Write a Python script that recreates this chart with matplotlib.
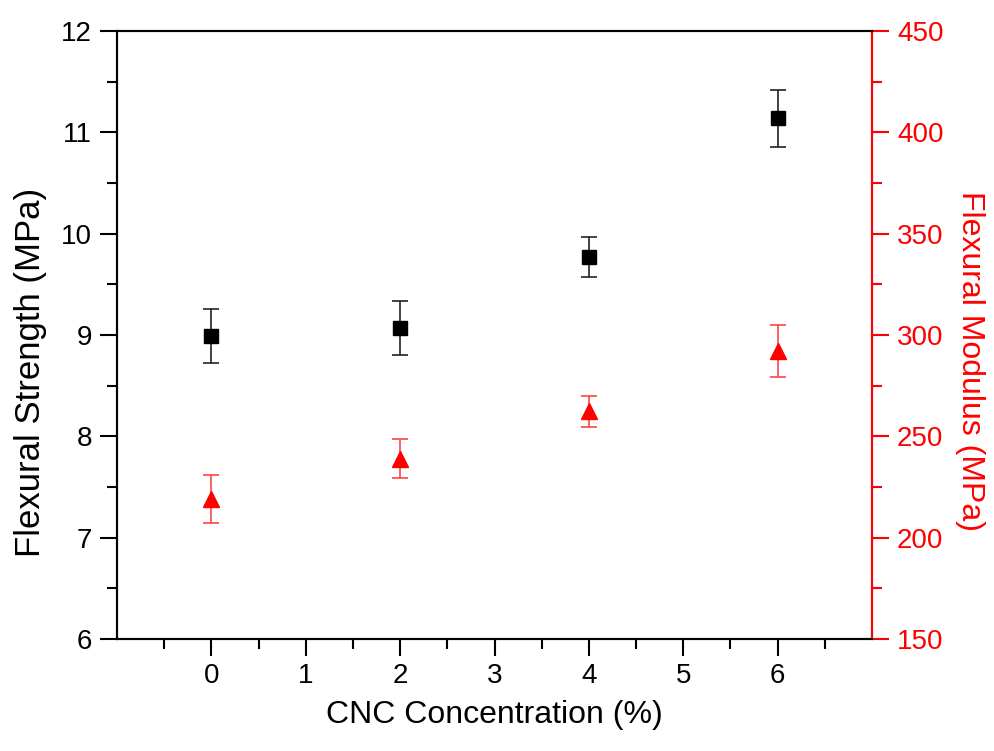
import numpy as np
import matplotlib.pyplot as plt
from matplotlib.ticker import FixedLocator

plt.rcParams['font.family'] = ['Liberation Sans', 'DejaVu Sans']

# CNC content (%)
cnc = [0, 2, 4, 6]
# flexural strength (MPa) and std dev
strength = [8.99, 9.07, 9.77, 11.14]
strength_err = [0.27, 0.27, 0.20, 0.28]
# flexural modulus (MPa) and std dev
modulus = [219.0, 239.0, 262.4, 292.2]
modulus_err = [11.8, 9.5, 7.6, 12.7]

x_ticks = [0, 1, 2, 3, 4, 5, 6]
x_minor = [-0.5, 0.5, 1.5, 2.5, 3.5, 4.5, 5.5, 6.5]
left_ticks = [6, 7, 8, 9, 10, 11, 12]
right_ticks = [150, 200, 250, 300, 350, 400, 450]

fig = plt.figure(figsize=(9.95, 7.51), dpi=100)
ax = fig.add_axes([0.1176, 0.1491, 0.7588, 0.8096])
ax2 = ax.twinx()

ax.errorbar(cnc, strength, yerr=strength_err, fmt='s', color='black', ms=9.5,
            ecolor='#222222', elinewidth=1.2, capsize=6, capthick=1.2, zorder=3)
ax2.errorbar(cnc, modulus, yerr=modulus_err, fmt='^', color='red', ms=12,
             ecolor='#ff4545', elinewidth=1.2, capsize=6, capthick=1.2, zorder=3)

ax.set_xlim(-1, 7)
ax.set_ylim(6, 12)
ax2.set_ylim(150, 450)

ax.xaxis.set_major_locator(FixedLocator(x_ticks))
ax.xaxis.set_minor_locator(FixedLocator(x_minor))
ax.yaxis.set_major_locator(FixedLocator(left_ticks))
ax.yaxis.set_minor_locator(FixedLocator(np.array(left_ticks[:-1]) + 0.5))
ax2.yaxis.set_major_locator(FixedLocator(right_ticks))
ax2.yaxis.set_minor_locator(FixedLocator(np.array(right_ticks[:-1]) + 25))

for a in (ax, ax2):
    for s in a.spines.values():
        s.set_linewidth(1.5)
ax2.spines['right'].set_color('red')

ax.tick_params(axis='both', which='major', direction='out', length=12, width=1.5,
               labelsize=20)
ax.tick_params(axis='both', which='minor', direction='out', length=7, width=1.5)
ax.tick_params(axis='x', which='major', pad=5)
ax.tick_params(axis='y', which='major', pad=6)
ax.tick_params(axis='x', which='both', top=False)
ax2.tick_params(axis='y', which='major', direction='out', length=12, width=1.5,
                labelsize=20, colors='red', pad=6)
ax2.tick_params(axis='y', which='minor', direction='out', length=7, width=1.5,
                colors='red')

ax.set_xlabel('CNC Concentration (%)', fontsize=23, labelpad=8)
ax.set_ylabel('Flexural Strength (MPa)', fontsize=25, labelpad=10)
ax2.set_ylabel('Flexural Modulus (MPa)', fontsize=23, color='red',
               rotation=270, labelpad=30)
# axis titles sit a little below the middle of the axes
ax.yaxis.label.set_y(0.439)
ax2.yaxis.label.set_y(0.457)

fig.savefig('out.png', dpi=100)
